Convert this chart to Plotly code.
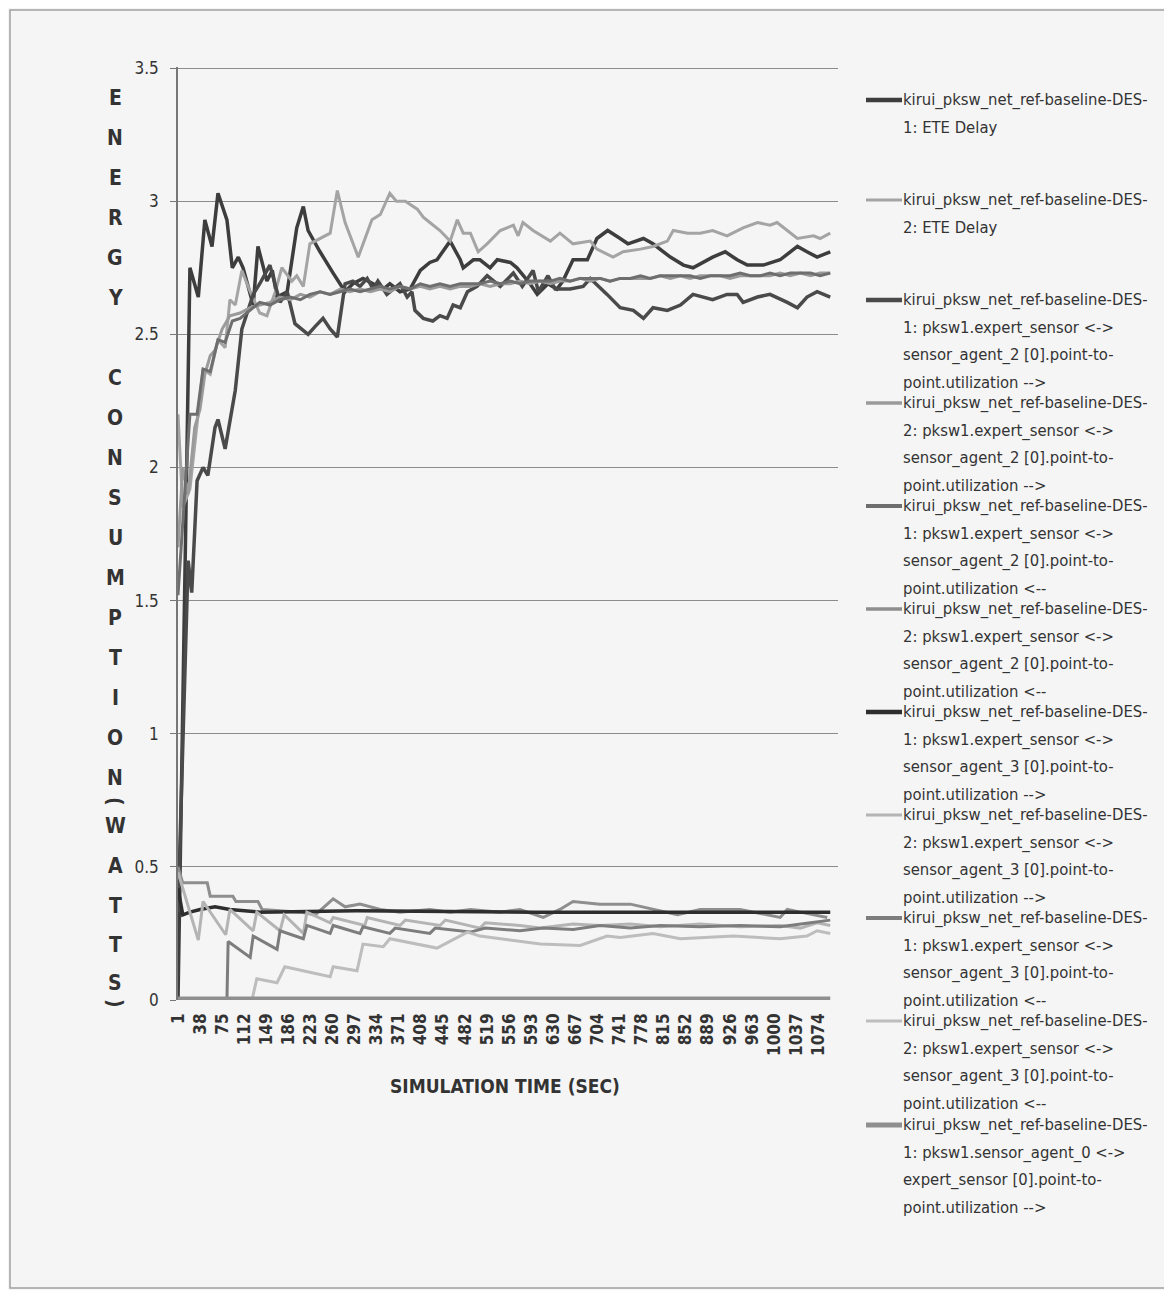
import plotly.graph_objects as go

# ------------------------------------------------------------------ data
tick_vals = [1, 38, 75, 112, 149, 186, 223, 260, 297, 334, 371, 408, 445, 482, 519,
             556, 593, 630, 667, 704, 741, 778, 815, 852, 889, 926, 963, 1000, 1037, 1074]
tick_text = [str(v) for v in tick_vals]

y_ticks = [0, 0.5, 1, 1.5, 2, 2.5, 3, 3.5]
y_tick_text = ["0", "0.5", "1", "1.5", "2", "2.5", "3", "3.5"]

# DES-1 : ETE Delay
t_des1_ete = [1, 16, 21, 35, 46, 58, 68, 83, 92, 102, 110, 127, 135, 150, 159, 167, 184, 200, 211,
              219, 239, 261, 281, 294, 311, 328, 345, 356, 373, 390, 407, 423, 435, 457, 474, 479,
              496, 507, 524, 536, 558, 569, 591, 603, 621, 636, 646, 663, 687, 703, 721, 742, 755,
              781, 797, 826, 848, 864, 881, 897, 918, 938, 955, 982, 1010, 1039, 1055, 1072, 1094]
v_des1_ete = [0.0, 2.0, 2.75, 2.64, 2.93, 2.83, 3.03, 2.93, 2.75, 2.79, 2.75, 2.61, 2.83, 2.70, 2.74,
              2.64, 2.66, 2.90, 2.98, 2.89, 2.81, 2.73, 2.66, 2.69, 2.71, 2.69, 2.67, 2.69, 2.66, 2.67,
              2.74, 2.77, 2.78, 2.85, 2.78, 2.75, 2.78, 2.78, 2.75, 2.78, 2.77, 2.75, 2.69, 2.65, 2.69,
              2.67, 2.70, 2.78, 2.78, 2.86, 2.89, 2.86, 2.84, 2.86, 2.84, 2.79, 2.76, 2.75, 2.77, 2.79,
              2.81, 2.78, 2.76, 2.76, 2.78, 2.83, 2.81, 2.79, 2.81]

# DES-2 : ETE Delay
t_des2_ete = [1, 9, 21, 35, 43, 55, 68, 80, 88, 97, 108, 122, 138, 150, 164, 175, 192, 200, 211, 222,
              239, 256, 268, 281, 303, 326, 340, 356, 367, 382, 402, 412, 423, 440, 457, 469, 479, 491,
              504, 519, 541, 563, 571, 579, 596, 625, 641, 663, 692, 703, 730, 747, 776, 797, 821, 831,
              855, 876, 897, 921, 948, 972, 993, 1005, 1022, 1039, 1066, 1077, 1094]
v_des2_ete = [2.2, 1.85, 1.92, 2.2, 2.37, 2.35, 2.48, 2.45, 2.63, 2.61, 2.74, 2.66, 2.58, 2.57, 2.66,
              2.75, 2.70, 2.72, 2.68, 2.84, 2.86, 2.88, 3.04, 2.92, 2.79, 2.93, 2.95, 3.03, 3.00, 3.00,
              2.97, 2.94, 2.92, 2.89, 2.85, 2.93, 2.88, 2.88, 2.81, 2.84, 2.89, 2.91, 2.87, 2.92, 2.89,
              2.85, 2.88, 2.84, 2.85, 2.82, 2.79, 2.81, 2.82, 2.83, 2.85, 2.89, 2.88, 2.88, 2.89, 2.87,
              2.90, 2.92, 2.91, 2.92, 2.89, 2.86, 2.87, 2.86, 2.88]

# DES-1 : sensor_agent_2 -->
t_des1_sa2_out = [1, 18, 24, 33, 43, 51, 63, 68, 80, 97, 108, 117, 127, 138, 155, 172, 184, 197, 219,
                  231, 244, 256, 268, 281, 294, 306, 318, 328, 336, 351, 373, 385, 393, 398, 412, 428,
                  440, 452, 462, 474, 486, 502, 519, 541, 563, 578, 596, 605, 621, 633, 658, 680, 692,
                  720, 742, 764, 781, 797, 821, 843, 864, 897, 921, 938, 948, 972, 993, 1022, 1039,
                  1055, 1072, 1094]
v_des1_sa2_out = [0.33, 1.65, 1.53, 1.95, 2.0, 1.97, 2.15, 2.18, 2.07, 2.29, 2.52, 2.58, 2.65, 2.69,
                  2.76, 2.62, 2.66, 2.54, 2.50, 2.53, 2.56, 2.52, 2.49, 2.69, 2.70, 2.68, 2.71, 2.67,
                  2.70, 2.65, 2.69, 2.64, 2.66, 2.59, 2.56, 2.55, 2.57, 2.56, 2.61, 2.60, 2.66, 2.68,
                  2.72, 2.68, 2.73, 2.68, 2.74, 2.66, 2.72, 2.67, 2.67, 2.68, 2.71, 2.65, 2.60, 2.59,
                  2.56, 2.60, 2.59, 2.61, 2.65, 2.63, 2.65, 2.65, 2.62, 2.64, 2.65, 2.62, 2.60, 2.64,
                  2.66, 2.64]

# DES-2 : sensor_agent_2 -->
t_des2_sa2_out = [1, 9, 18, 29, 38, 46, 55, 63, 75, 88, 105, 122, 138, 155, 172, 189, 206, 222, 239,
                  256, 273, 289, 306, 323, 340, 356, 373, 390, 407, 423, 440, 457, 474, 491, 507, 524,
                  541, 558, 574, 591, 608, 625, 641, 658, 675, 692, 708, 725, 742, 759, 776, 792, 809,
                  826, 843, 859, 876, 893, 910, 926, 943, 960, 977, 993, 1010, 1027, 1044, 1061, 1077,
                  1094]
v_des2_sa2_out = [1.70, 2.0, 1.9, 2.15, 2.22, 2.35, 2.42, 2.44, 2.52, 2.57, 2.58, 2.60, 2.61, 2.62,
                  2.64, 2.63, 2.65, 2.64, 2.66, 2.65, 2.67, 2.66, 2.67, 2.66, 2.67, 2.66, 2.68, 2.67,
                  2.68, 2.67, 2.68, 2.67, 2.68, 2.68, 2.69, 2.68, 2.69, 2.69, 2.70, 2.69, 2.70, 2.69,
                  2.70, 2.70, 2.71, 2.70, 2.71, 2.70, 2.71, 2.71, 2.71, 2.71, 2.72, 2.71, 2.72, 2.71,
                  2.72, 2.72, 2.72, 2.71, 2.72, 2.72, 2.72, 2.72, 2.73, 2.72, 2.73, 2.72, 2.73, 2.73]

# DES-1 : sensor_agent_2 <--
t_des1_sa2_in = [1, 11, 21, 33, 43, 55, 68, 80, 92, 105, 122, 138, 155, 172, 189, 206, 222, 239, 256,
                 273, 289, 306, 323, 340, 356, 373, 390, 407, 423, 440, 457, 474, 491, 507, 524, 541,
                 558, 574, 591, 608, 625, 641, 658, 675, 692, 708, 725, 742, 759, 776, 792, 809, 826,
                 843, 859, 876, 893, 910, 926, 943, 960, 977, 993, 1010, 1027, 1044, 1061, 1077, 1094]
v_des1_sa2_in = [1.52, 1.85, 2.2, 2.2, 2.37, 2.36, 2.48, 2.47, 2.55, 2.56, 2.59, 2.62, 2.61, 2.63,
                 2.64, 2.63, 2.65, 2.66, 2.65, 2.66, 2.67, 2.66, 2.67, 2.68, 2.67, 2.68, 2.67, 2.69,
                 2.68, 2.69, 2.68, 2.69, 2.69, 2.69, 2.70, 2.69, 2.70, 2.69, 2.70, 2.70, 2.70, 2.71,
                 2.70, 2.71, 2.71, 2.71, 2.70, 2.71, 2.71, 2.72, 2.71, 2.72, 2.72, 2.72, 2.72, 2.71,
                 2.72, 2.72, 2.72, 2.73, 2.72, 2.72, 2.73, 2.72, 2.73, 2.73, 2.73, 2.72, 2.73]

# DES-2 : sensor_agent_2 <--
t_des2_sa2_in = [1, 9, 50, 55, 93, 98, 135, 142, 206, 231, 261, 281, 306, 340, 373, 423, 457, 491,
                 541, 574, 613, 641, 663, 708, 759, 838, 876, 943, 1010, 1022, 1044, 1089]
v_des2_sa2_in = [0.50, 0.44, 0.44, 0.39, 0.39, 0.37, 0.37, 0.34, 0.33, 0.32, 0.38, 0.35, 0.36, 0.34,
                 0.33, 0.34, 0.33, 0.34, 0.33, 0.34, 0.31, 0.34, 0.37, 0.36, 0.36, 0.32, 0.34, 0.34,
                 0.31, 0.34, 0.33, 0.31]

# DES-1 : sensor_agent_3 -->
t_des1_sa3_out = [1, 9, 21, 38, 63, 88, 138, 300, 600, 900, 1094]
v_des1_sa3_out = [0.42, 0.32, 0.33, 0.34, 0.35, 0.34, 0.33, 0.335, 0.33, 0.33, 0.33]

# DES-2 : sensor_agent_3 -->
t_des2_sa3_out = [1, 35, 43, 81, 88, 127, 133, 172, 179, 211, 217, 256, 261, 314, 318, 373, 382, 440,
                  449, 507, 516, 574, 608, 663, 708, 759, 809, 876, 943, 1010, 1044, 1072, 1094]
v_des2_sa3_out = [0.48, 0.225, 0.37, 0.245, 0.34, 0.26, 0.33, 0.26, 0.32, 0.25, 0.33, 0.29, 0.31,
                  0.28, 0.31, 0.28, 0.30, 0.28, 0.30, 0.27, 0.29, 0.28, 0.27, 0.285, 0.28, 0.285,
                  0.275, 0.285, 0.275, 0.28, 0.27, 0.29, 0.28]

# DES-1 : sensor_agent_3 <--
t_des1_sa3_in = [1, 83, 85, 122, 127, 167, 172, 211, 217, 256, 261, 306, 311, 356, 365, 423, 432, 491,
                 516, 574, 613, 663, 708, 759, 809, 876, 943, 1010, 1061, 1094]
v_des1_sa3_in = [0.0, 0.0, 0.22, 0.16, 0.24, 0.19, 0.26, 0.23, 0.28, 0.25, 0.28, 0.25, 0.275, 0.25,
                 0.27, 0.25, 0.27, 0.255, 0.27, 0.26, 0.27, 0.265, 0.28, 0.27, 0.28, 0.275, 0.28,
                 0.275, 0.29, 0.30]

# DES-2 : sensor_agent_3 <--
t_des2_sa3_in = [1, 125, 133, 167, 180, 256, 261, 301, 311, 345, 356, 435, 486, 507, 608, 675, 720,
                 742, 797, 843, 932, 1010, 1055, 1072, 1094]
v_des2_sa3_in = [0.0, 0.0, 0.08, 0.065, 0.125, 0.0875, 0.125, 0.11, 0.21, 0.20, 0.23, 0.195, 0.255,
                 0.24, 0.21, 0.205, 0.24, 0.235, 0.25, 0.23, 0.24, 0.23, 0.24, 0.26, 0.25]

# DES-1 : sensor_agent_0 --> expert_sensor
t_des1_sa0 = [1, 1094]
v_des1_sa0 = [0.0, 0.0]

series_names = [
    "kirui_pksw_net_ref-baseline-DES-1: ETE Delay",
    "kirui_pksw_net_ref-baseline-DES-2: ETE Delay",
    "kirui_pksw_net_ref-baseline-DES-1: pksw1.expert_sensor <-> sensor_agent_2 [0].point-to-point.utilization -->",
    "kirui_pksw_net_ref-baseline-DES-2: pksw1.expert_sensor <-> sensor_agent_2 [0].point-to-point.utilization -->",
    "kirui_pksw_net_ref-baseline-DES-1: pksw1.expert_sensor <-> sensor_agent_2 [0].point-to-point.utilization <--",
    "kirui_pksw_net_ref-baseline-DES-2: pksw1.expert_sensor <-> sensor_agent_2 [0].point-to-point.utilization <--",
    "kirui_pksw_net_ref-baseline-DES-1: pksw1.expert_sensor <-> sensor_agent_3 [0].point-to-point.utilization -->",
    "kirui_pksw_net_ref-baseline-DES-2: pksw1.expert_sensor <-> sensor_agent_3 [0].point-to-point.utilization -->",
    "kirui_pksw_net_ref-baseline-DES-1: pksw1.expert_sensor <-> sensor_agent_3 [0].point-to-point.utilization <--",
    "kirui_pksw_net_ref-baseline-DES-2: pksw1.expert_sensor <-> sensor_agent_3 [0].point-to-point.utilization <--",
    "kirui_pksw_net_ref-baseline-DES-1: pksw1.sensor_agent_0 <-> expert_sensor [0].point-to-point.utilization -->",
]

legend_lines = [
    ["kirui_pksw_net_ref-baseline-DES-", "1: ETE Delay"],
    ["kirui_pksw_net_ref-baseline-DES-", "2: ETE Delay"],
    ["kirui_pksw_net_ref-baseline-DES-", "1: pksw1.expert_sensor <->", "sensor_agent_2 [0].point-to-", "point.utilization -->"],
    ["kirui_pksw_net_ref-baseline-DES-", "2: pksw1.expert_sensor <->", "sensor_agent_2 [0].point-to-", "point.utilization -->"],
    ["kirui_pksw_net_ref-baseline-DES-", "1: pksw1.expert_sensor <->", "sensor_agent_2 [0].point-to-", "point.utilization <--"],
    ["kirui_pksw_net_ref-baseline-DES-", "2: pksw1.expert_sensor <->", "sensor_agent_2 [0].point-to-", "point.utilization <--"],
    ["kirui_pksw_net_ref-baseline-DES-", "1: pksw1.expert_sensor <->", "sensor_agent_3 [0].point-to-", "point.utilization -->"],
    ["kirui_pksw_net_ref-baseline-DES-", "2: pksw1.expert_sensor <->", "sensor_agent_3 [0].point-to-", "point.utilization -->"],
    ["kirui_pksw_net_ref-baseline-DES-", "1: pksw1.expert_sensor <->", "sensor_agent_3 [0].point-to-", "point.utilization <--"],
    ["kirui_pksw_net_ref-baseline-DES-", "2: pksw1.expert_sensor <->", "sensor_agent_3 [0].point-to-", "point.utilization <--"],
    ["kirui_pksw_net_ref-baseline-DES-", "1: pksw1.sensor_agent_0 <->", "expert_sensor [0].point-to-", "point.utilization -->"],
]

y_title_letters = ["E", "N", "E", "R", "G", "Y", "C", "O", "N", "S", "U", "M", "P", "T", "I",
                   "O", "N", "(", "W", "A", "T", "T", "S", ")"]
x_title = "SIMULATION TIME (SEC)"

# ------------------------------------------------------------------ styling
series_t = [t_des1_ete, t_des2_ete, t_des1_sa2_out, t_des2_sa2_out, t_des1_sa2_in, t_des2_sa2_in,
            t_des1_sa3_out, t_des2_sa3_out, t_des1_sa3_in, t_des2_sa3_in, t_des1_sa0]
series_v = [v_des1_ete, v_des2_ete, v_des1_sa2_out, v_des2_sa2_out, v_des1_sa2_in, v_des2_sa2_in,
            v_des1_sa3_out, v_des2_sa3_out, v_des1_sa3_in, v_des2_sa3_in, v_des1_sa0]
colors = ["#3d3d3d", "#a4a4a4", "#4a4a4a", "#9a9a9a", "#6e6e6e", "#8e8e8e",
          "#2e2e2e", "#b4b4b4", "#7d7d7d", "#bdbdbd", "#8f8f8f"]
widths = [3.5, 3, 3.5, 3, 3, 3, 3.5, 3, 3, 3, 7]
legend_widths = [4.5, 3, 4.5, 3.5, 4, 3.5, 4.5, 3, 4, 3, 5]

FONT = "Liberation Sans Narrow, Arial Narrow, DejaVu Sans Condensed, Roboto, sans-serif"
TXT = "#333333"
BG = "#f5f5f5"

# the page body has an 8px margin, so the figure is made 8px smaller and
# every page-pixel position below is measured on the 1172x1290 page
BODY = 8
W, H = 1172 - BODY, 1290 - BODY
PL, PR, PT, PB = 178, 838, 67, 1000


def px_x(px):
    return (px - PL) / (PR - PL)


def px_y(py):
    return (PB - py) / (PB - PT)


fig = go.Figure()
for name, t, v, c, w in zip(series_names, series_t, series_v, colors, widths):
    fig.add_trace(go.Scatter(x=t, y=v, mode="lines", name=name,
                             line=dict(color=c, width=w), hoverinfo="skip"))

annotations = []
shapes = []

# vertical (stacked) y-axis title
letter_y = [98, 138, 178, 218, 258, 298, 378, 418, 458, 498, 538, 578, 618, 658, 698,
            738, 778, 801, 826, 866, 906, 945, 983, 1003]
for ch, yy in zip(y_title_letters, letter_y):
    annotations.append(dict(
        text=ch, x=px_x(115), y=px_y(yy), xref="paper", yref="paper",
        xanchor="center", yanchor="middle", showarrow=False,
        textangle=90 if ch in "()" else 0,
        font=dict(family=FONT, size=21, color=TXT, weight="bold")))

# x-axis title
annotations.append(dict(
    text=x_title, x=px_x(505), y=px_y(1086), xref="paper", yref="paper",
    xanchor="center", yanchor="middle", showarrow=False,
    font=dict(family=FONT, size=19, color=TXT, weight="bold")))

# custom legend (entries squeezed as in the original)
entry_y = [100, 200, 300, 403, 506, 609, 712, 815, 918, 1021, 1125]
LINE_GAP = 27.6
for lines, ey, c, lw in zip(legend_lines, entry_y, colors, legend_widths):
    shapes.append(dict(type="line", xref="paper", yref="paper",
                       x0=px_x(866), x1=px_x(902), y0=px_y(ey), y1=px_y(ey),
                       line=dict(color=c, width=lw)))
    for j, txt in enumerate(lines):
        annotations.append(dict(
            text=txt.replace("<", "&lt;").replace(">", "&gt;"),
            x=px_x(901), y=px_y(ey + LINE_GAP * j), xref="paper", yref="paper",
            xanchor="left", yanchor="middle", showarrow=False,
            font=dict(family=FONT, size=16.5, color=TXT)))

# outer frame of the chart
shapes.append(dict(type="rect", xref="paper", yref="paper",
                   x0=px_x(10), x1=px_x(1166), y0=px_y(1288), y1=px_y(10),
                   line=dict(color="#a0a0a0", width=1.5), fillcolor="rgba(0,0,0,0)",
                   layer="below"))

fig.update_layout(
    width=W, height=H,
    margin=dict(l=PL - BODY, r=(1172 - BODY) - (PR - BODY), t=PT - BODY,
                b=(1290 - BODY) - (PB - BODY), pad=0),
    paper_bgcolor=BG, plot_bgcolor=BG,
    showlegend=False,
    annotations=annotations,
    shapes=shapes,
    font=dict(family=FONT, color=TXT),
)

fig.update_xaxes(
    range=[1, 1107], tickmode="array", tickvals=tick_vals, ticktext=tick_text,
    tickangle=-90, tickfont=dict(family=FONT, size=17, color=TXT, weight="bold"),
    showgrid=False, zeroline=False, showline=False, ticks="", ticklabelstandoff=9,
)
fig.update_yaxes(
    range=[0, 3.504], tickmode="array", tickvals=y_ticks, ticktext=y_tick_text,
    tickfont=dict(family=FONT, size=17, color=TXT),
    showgrid=True, gridcolor="#8c8c8c", gridwidth=1,
    zeroline=False, showline=True, linecolor="#777777", linewidth=1.5,
    ticks="outside", ticklen=6, tickcolor="#777777", ticklabelstandoff=8,
)

fig.write_html("out.html")
